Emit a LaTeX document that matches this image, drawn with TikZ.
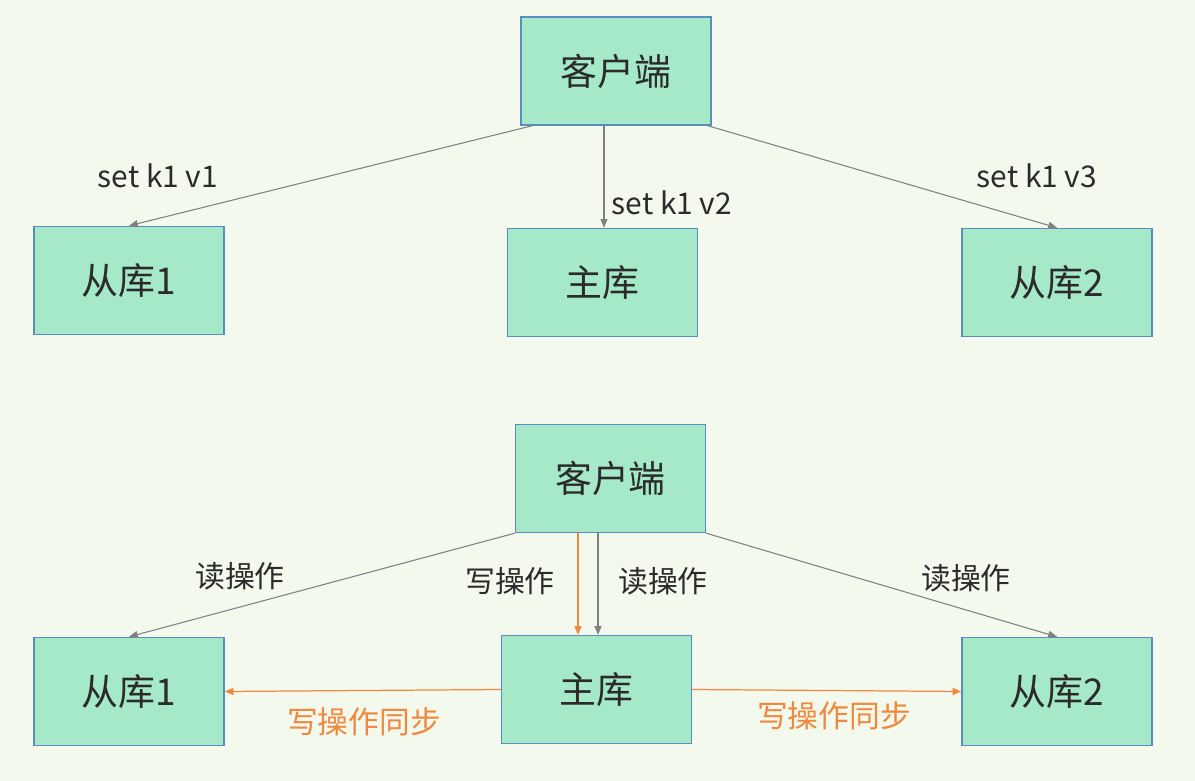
\documentclass[tikz,border=0pt]{standalone}
\usepackage{fontspec}
\setmainfont{Noto Sans CJK SC}
\usepackage{xcolor}
\usetikzlibrary{arrows.meta,positioning}
\definecolor{paper}{HTML}{F3F9EC}
\definecolor{boxfill}{HTML}{A5E9C9}
\definecolor{boxline}{HTML}{5B8CBF}
\definecolor{ink}{HTML}{2B2B2B}
\definecolor{wire}{HTML}{808080}
\definecolor{sync}{HTML}{F0883E}
\tikzset{
  db/.style={
    draw=boxline, fill=boxfill, line width=0.8pt,
    minimum width=3.8cm, minimum height=2.16cm, inner sep=0pt,
    font=\fontsize{21}{24}\selectfont\color{ink}},
  op/.style={font=\fontsize{17}{20}\selectfont\color{ink}},
  syncop/.style={font=\fontsize{17.5}{20}\selectfont\color{sync}},
  req/.style={-{Triangle[length=5pt,width=4pt]}, line width=0.6pt, color=wire},
  rep/.style={-{Triangle[length=5pt,width=4pt]}, line width=0.7pt, color=sync},
}

\begin{document}
\begin{tikzpicture}
  \fill[paper] (0,0) rectangle (23.9,-15.62);
  \useasboundingbox (0,0) rectangle (23.9,-15.62);

  % upper picture: client writes to every instance
  \node[db] (client) at (12.32,-1.42) {客户端};
  \node[db] (slave1) at (2.58,-5.61) {从库1};
  \node[db] (master) at (12.05,-5.65) {主库};
  \node[db] (slave2) at (21.14,-5.65) {从库2};

  \node[op] (set1) at (3.16,-3.52) {set k1 v1};
  \node[op] (set2) at (13.44,-4.06) {set k1 v2};
  \node[op] (set3) at (20.74,-3.52) {set k1 v3};

  \draw[req] ([xshift=0.24cm]client.south west) -- (slave1.north);
  \draw[req] ([xshift=-0.24cm]client.south) -- ([xshift=-0.24cm]client.south |- master.north);
  \draw[req] ([xshift=-0.08cm]client.south east) -- (slave2.north);

  % lower picture: writes go to master, reads anywhere
  \node[db] (client2) at (12.21,-9.57) {客户端};
  \node[db] (slave1b) at (2.58,-13.83) {从库1};
  \node[db] (master2) at (11.93,-13.79) {主库};
  \node[db] (slave2b) at (21.14,-13.83) {从库2};

  \node[op] (read1) at (4.8,-11.52) {读操作};
  \node[op] (write) at (10.2,-11.62) {写操作};
  \node[op] (read2) at (13.26,-11.62) {读操作};
  \node[op] (read3) at (19.32,-11.56) {读操作};
  \node[syncop] (syncl) at (7.28,-14.44) {写操作同步};
  \node[syncop] (syncr) at (16.68,-14.32) {写操作同步};

  \draw[req] (client2.south west) -- (slave1b.north);
  \draw[rep] ([xshift=-0.65cm]client2.south) -- ([xshift=-0.65cm]client2.south |- master2.north);
  \draw[req] ([xshift=-0.25cm]client2.south) -- ([xshift=-0.25cm]client2.south |- master2.north);
  \draw[req] (client2.south east) -- (slave2b.north);
  \draw[rep] (master2.west) -- (slave1b.east);
  \draw[rep] (master2.east) -- (slave2b.west);
\end{tikzpicture}
\end{document}
